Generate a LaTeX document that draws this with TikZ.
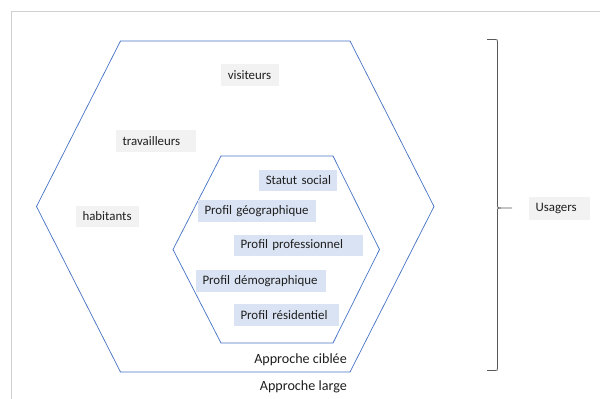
\documentclass[tikz,border=0pt]{standalone}
\usepackage{fontspec}
\setmainfont{Carlito}
\definecolor{hexblue}{HTML}{4472C4}
\definecolor{graybox}{HTML}{F2F2F2}
\definecolor{bluebox}{HTML}{DAE3F3}
\definecolor{txt}{HTML}{1F1F1F}
\definecolor{frame}{HTML}{D0D0D0}
\definecolor{bracec}{HTML}{595959}
\begin{document}
\begin{tikzpicture}[x=1pt,y=-1pt,
  lbl/.style={inner ysep=0pt, inner xsep=6.5pt, minimum height=22pt, text=txt, align=left, font=\fontsize{12.9}{14}\selectfont},
  gbox/.style={lbl, fill=graybox},
  bbox/.style={lbl, fill=bluebox},
  plain/.style={inner sep=0pt, text=txt, font=\fontsize{14.1}{16}\selectfont},
  hexline/.style={draw=hexblue, line width=0.7pt, line join=miter}]
\useasboundingbox (0,0) rectangle (600,399);
\fill[white] (0,0) rectangle (600,399);
\draw[frame, line width=1.5pt] (11.5,420) -- (11.5,11.5) -- (620,11.5);
% outer hexagon
\coordinate (o1) at (120.5,41);
\coordinate (o2) at (350,41);
\coordinate (o3) at (434,206.5);
\coordinate (o4) at (350,372);
\coordinate (o5) at (120.5,372);
\coordinate (o6) at (36.5,206.5);
\draw[hexline] (o1) -- (o2) -- (o3) -- (o4) -- (o5) -- (o6) -- cycle;
% inner hexagon
\coordinate (i1) at (221,156);
\coordinate (i2) at (333,156);
\coordinate (i3) at (379.5,249.5);
\coordinate (i4) at (333,343);
\coordinate (i5) at (221,343);
\coordinate (i6) at (173,249.5);
\draw[hexline] (i1) -- (i2) -- (i3) -- (i4) -- (i5) -- (i6) -- cycle;
% labels
\node[gbox, text width=44.5pt] (vis) at (250,75) {\mbox{visiteurs}};
\node[gbox, text width=67pt] (trav) at (156,141) {\mbox{travailleurs}};
\node[gbox, text width=50pt, minimum height=21pt] (hab) at (107.5,216.5) {\mbox{habitants}};
\node[bbox, text width=64.5pt, minimum height=21pt] (stat) at (298,180.5) {\mbox{Statut social}};
\node[bbox, text width=105pt] (geo) at (257,211) {\mbox{Profil géographique}};
\node[bbox, text width=116pt, minimum height=21pt] (pro) at (298.5,245.5) {\mbox{Profil professionnel}};
\node[bbox, text width=117pt] (dem) at (261,281) {\mbox{Profil démographique}};
\node[bbox, text width=92pt] (res) at (286.5,315) {\mbox{Profil résidentiel}};
\node[plain, anchor=east] (cib) at (347,360) {Approche ciblée};
\node[plain, anchor=east] (lar) at (347,387) {Approche large};
\node[gbox, text width=48pt, minimum height=23pt] (usa) at (559.5,208.5) {\mbox{Usagers}};
% brace
\coordinate (btop) at (487,39.5);
\coordinate (bbot) at (487,370.5);
\coordinate (btip) at (512,208);
\draw[bracec, line width=0.8pt] (btop) -- (495,39.5) .. controls (497.5,39.5) .. (497.5,42.5)
  -- (497.5,204) .. controls (497.5,208) .. (501,208) -- (btip);
\draw[bracec, line width=0.8pt] (bbot) -- (495,370.5) .. controls (497.5,370.5) .. (497.5,367.5)
  -- (497.5,212) .. controls (497.5,208) .. (501,208);
\end{tikzpicture}
\end{document}
